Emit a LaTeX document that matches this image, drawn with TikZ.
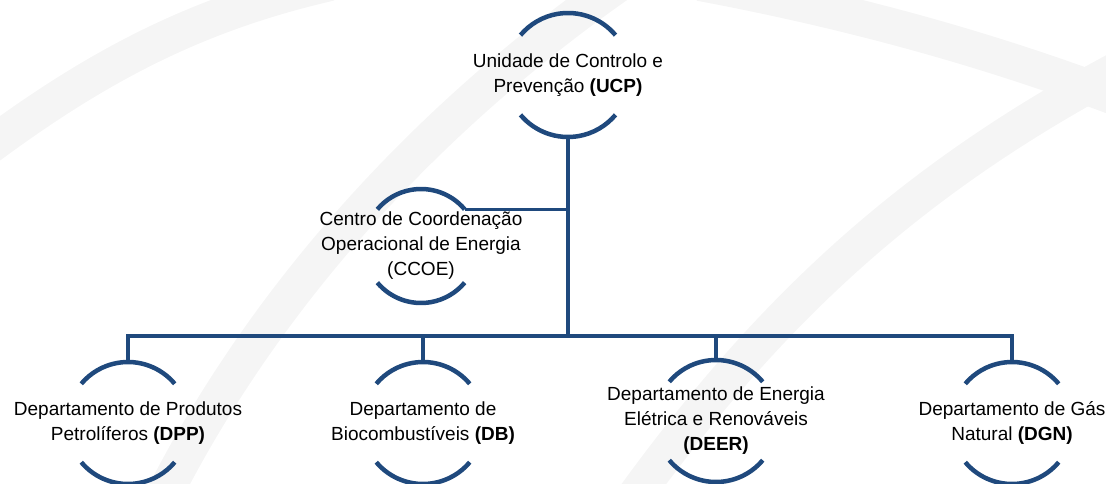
\documentclass[tikz,border=0pt]{standalone}
\usepackage{fontspec}
\setmainfont{Liberation Sans}
\usepackage{tikz}
\definecolor{orgblue}{RGB}{31,73,125}

\begin{document}
\begin{tikzpicture}[x=1pt,y=1pt,
        every node/.style={align=center,inner sep=0pt,font=\fontsize{19}{25}\selectfont},
        ring/.style={draw=orgblue,line width=4.5pt},
        link/.style={draw=orgblue,line width=3.5pt},
        shade/.style={draw=gray!8,line width=36pt}]

    \useasboundingbox (0,0) rectangle (1106,483);

    % faint background bands
    \draw[shade] (160,-20) .. controls (260,180) and (420,360) .. (620,500);
    \draw[shade] (630,-20) .. controls (760,160) and (900,300) .. (1130,420);
    \draw[shade] (-20,330) .. controls (100,420) and (200,470) .. (330,500);
    \draw[shade] (700,500) .. controls (860,470) and (1000,430) .. (1130,380);

    \node (ucp) at (568,408) {Unidade de Controlo e\\Prevenção \textbf{(UCP)}};
    \node (ccoe) at (421,237) {Centro de Coordenação\\Operacional de Energia\\(CCOE)};
    \node (dpp) at (128,60) {Departamento de Produtos\\Petrolíferos \textbf{(DPP)}};
    \node (db) at (423,60) {Departamento de\\Biocombustíveis \textbf{(DB)}};
    \node (deer) at (716,62) {Departamento de Energia\\Elétrica e Renováveis\\\textbf{(DEER)}};
    \node (dgn) at (1012,60) {Departamento de Gás\\Natural \textbf{(DGN)}};

    % half rings round each unit
    \foreach \n/\r in {ucp/62,ccoe/57,dpp/61,db/61,deer/61,dgn/61}{
        \draw[ring] (\n.center) ++(40:\r) arc[start angle=40,end angle=140,radius=\r];
        \draw[ring] (\n.center) ++(220:\r) arc[start angle=220,end angle=320,radius=\r];
        \path (\n.center) ++(0,-\r) coordinate (\n-s);
        \path (\n.center) ++(0,\r) coordinate (\n-n);
    }
    \path (ccoe.center) ++(40:57) coordinate (ccoe-ne);
    \coordinate (bus) at (568,147);

    \draw[link] (ucp-s) -- (bus);
    \draw[link] (ccoe-ne) -- (ccoe-ne -| ucp-s);
    \draw[link] (dpp-n) |- (bus) -| (dgn-n);
    \draw[link] (db-n) -- (db-n |- bus);
    \draw[link] (deer-n) -- (deer-n |- bus);
\end{tikzpicture}
\end{document}
